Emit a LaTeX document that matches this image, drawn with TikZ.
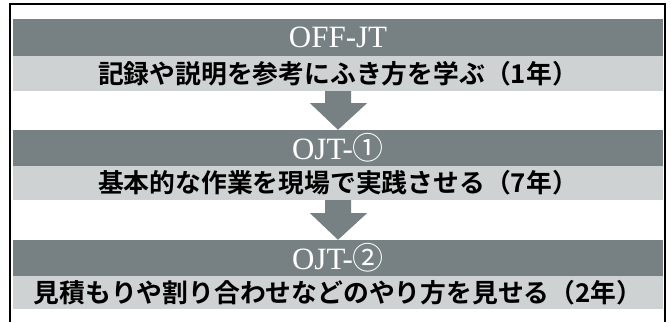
\documentclass[tikz,border=0pt]{standalone}
\usepackage{fontspec}
\setmainfont{Liberation Serif}
\newfontfamily\jp{Noto Sans CJK JP}[BoldFont={Noto Sans CJK JP Bold}]
\usetikzlibrary{calc}
\definecolor{barD}{RGB}{119,129,131}
\definecolor{barL}{RGB}{206,210,210}
\begin{document}
\begin{tikzpicture}[x=1pt,y=-1pt,
  headbar/.style={rectangle, fill=barD, text=white, minimum width=650pt, inner sep=0pt,
    font=\fontsize{31}{31}\selectfont},
  descbar/.style={rectangle, fill=barL, text=black, minimum width=650pt, inner sep=0pt,
    font=\jp\bfseries\fontsize{25.8}{26}\selectfont},
  flowarrow/.style={fill=barD}]
\useasboundingbox (0,0) rectangle (671,322);
\fill[white] (0,0) rectangle (671,322);
\draw[line width=1.5pt] (10,322) -- (10,4) -- (665,4) -- (665,322);

\node[headbar, minimum height=37pt] (h1) at (338,37.5) {OFF-JT};
\node[descbar, minimum height=35pt] (d1) at (338,73.5) {記録や説明を参考にふき方を学ぶ（1年）};
\node[headbar, minimum height=36pt] (h2) at (338,148) {OJT-{\jp ①}};
\node[descbar, minimum height=34pt] (d2) at (338,183) {基本的な作業を現場で実践させる（7年）};
\node[headbar, minimum height=36pt] (h3) at (338,258) {OJT-{\jp ②}};
\node[descbar, minimum height=33pt] (d3) at (338,292.5) {見積もりや割り合わせなどのやり方を見せる（2年）};

\fill[flowarrow] ($(d1.south)+(-13,0)$) -- ($(d1.south)+(13,0)$) -- ($(d1.south)+(13,12)$)
  -- ($(d1.south)+(29,12)$) -- (h2.north) -- ($(d1.south)+(-28,12)$) -- ($(d1.south)+(-13,12)$) -- cycle;
\fill[flowarrow] ($(d2.south)+(-13,0)$) -- ($(d2.south)+(13,0)$) -- ($(d2.south)+(13,13)$)
  -- ($(d2.south)+(29,13)$) -- (h3.north) -- ($(d2.south)+(-28,13)$) -- ($(d2.south)+(-13,13)$) -- cycle;
\end{tikzpicture}
\end{document}
